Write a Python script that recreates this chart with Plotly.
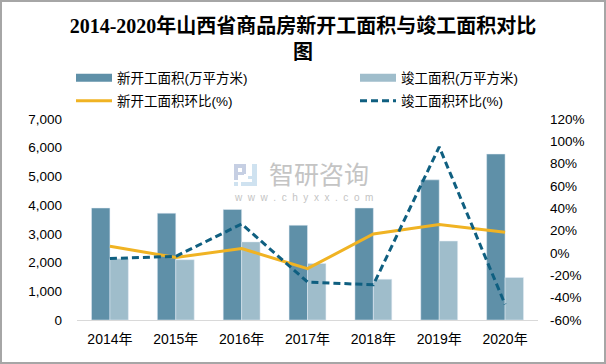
import plotly.graph_objects as go

years = ["2014年", "2015年", "2016年", "2017年", "2018年", "2019年", "2020年"]
started_area = [3900, 3720, 3850, 3300, 3900, 4880, 5780]
completed_area = [2130, 2100, 2720, 1970, 1420, 2750, 1480]
started_ratio = [6, -4, 4, -14, 17, 25.5, 18.5]
completed_ratio = [-5, -3, 26, -26, -28.5, 95, -46]
left_ticks = [0, 1000, 2000, 3000, 4000, 5000, 6000, 7000]
right_ticks = [-60, -40, -20, 0, 20, 40, 60, 80, 100, 120]
right_labels = ["-60%", "-40%", "-20%", "0%", "20%", "40%", "60%", "80%", "100%", "120%"]

SANS = "'Liberation Sans','Noto Sans CJK SC'"
SERIF = "'Liberation Serif','Noto Sans CJK SC'"

W, H = 606, 364
L, R, T, B = 77, 68, 119, 44
PW, PH = W - L - R, H - T - B


def px(x):
    return (x - L) / PW


def py(y):
    return (H - B - y) / PH


def rect(x0, y0, x1, y1, color):
    return dict(type="rect", xref="paper", yref="paper", x0=px(x0), x1=px(x1), y0=py(y0), y1=py(y1),
                fillcolor=color, line=dict(width=0), layer="below")


fig = go.Figure()
fig.add_bar(x=years, y=started_area, name="新开工面积", marker_color="#5f90a8", yaxis="y", showlegend=False)
fig.add_bar(x=years, y=completed_area, name="竣工面积", marker_color="#9fbdcb", yaxis="y", showlegend=False)
fig.add_scatter(x=years, y=started_ratio, name="新开工面积环比(%)", mode="lines",
                line=dict(color="#f0b323", width=3), yaxis="y2", legend="legend3", showlegend=True)
fig.add_scatter(x=years, y=completed_ratio, name="竣工面积环比(%)", mode="lines",
                line=dict(color="#0f5f80", width=3, dash="7px,4px"), yaxis="y2", legend="legend4", showlegend=True)
# Legend keys for the bars: wide flat swatches, as in the reference
fig.add_scatter(x=[None], y=[None], name="新开工面积(万平方米)", mode="lines",
                line=dict(color="#5f90a8", width=8), legend="legend", showlegend=True)
fig.add_scatter(x=[None], y=[None], name="竣工面积(万平方米)", mode="lines",
                line=dict(color="#9fbdcb", width=8), legend="legend2", showlegend=True)


def legend_at(x, y):
    return dict(xref="container", yref="container", x=x / W, y=1 - y / H, xanchor="left", yanchor="middle",
                font=dict(size=13.5), bgcolor="rgba(0,0,0,0)", borderwidth=0, itemwidth=36)


logo = [
    rect(234, 164, 246, 168, "#c6cfe3"), rect(234, 168, 238, 180, "#c6cfe3"),
    rect(242, 168, 246, 174, "#c6cfe3"), rect(238, 172, 244, 175, "#c6cfe3"),
    rect(234, 182, 238, 186, "#cfe2f0"), rect(252, 164, 257, 186, "#cfe2f0"),
    rect(241, 182, 257, 186, "#cfe2f0"), rect(248, 176, 252, 179, "#cfe2f0"),
]
border = dict(type="rect", xref="paper", yref="paper", x0=px(1), x1=px(W - 1), y0=py(H - 1), y1=py(1),
              line=dict(color="#a6a6a6", width=2), fillcolor="rgba(0,0,0,0)", layer="above")

fig.update_layout(
    width=W, height=H, autosize=False,
    margin=dict(l=L, r=R, t=T, b=B, autoexpand=False),
    paper_bgcolor="white", plot_bgcolor="white",
    barmode="group", bargap=0.44, bargroupgap=0,
    font=dict(family=SANS, size=13.5, color="black"),
    title=dict(text="<b>2014-2020年山西省商品房新开工面积与竣工面积对比<br>图</b>",
               x=0.5, xanchor="center", xref="container", y=0.91, yanchor="top",
               yref="container", font=dict(family=SERIF, size=20, color="black")),
    legend=legend_at(71, 78),
    legend2=legend_at(355, 78),
    legend3=legend_at(71, 101),
    legend4=legend_at(355, 101),
    xaxis=dict(showgrid=False, showline=True, linecolor="#d9d9d9", linewidth=1,
               ticks="", tickfont=dict(size=14), automargin=False, ticklabelstandoff=6),
    yaxis=dict(range=[0, 7000], tickvals=left_ticks, tickformat=",d", showgrid=False,
               zeroline=False, ticks="", tickfont=dict(size=13.5), automargin=False, ticklabelstandoff=14),
    yaxis2=dict(range=[-60, 120], tickvals=right_ticks, ticktext=right_labels, overlaying="y",
                side="right", showgrid=False, zeroline=False, ticks="", tickfont=dict(size=13.5),
                automargin=False, ticklabelstandoff=11),
    shapes=logo + [border],
    annotations=[
        dict(text="智研咨询", xref="paper", yref="paper", x=px(319), y=py(173), xanchor="center", yanchor="middle",
             showarrow=False, font=dict(size=25, color="#c4c4c4", family="'Noto Sans CJK SC'")),
        dict(text="\u00a0\u00a0".join("www.chyxx.com"), xref="paper", yref="paper", x=px(303), y=py(197),
             xanchor="center", yanchor="middle", showarrow=False, font=dict(size=10, color="#c4c4c4")),
    ],
)
fig.write_html("out.html", config=dict(displayModeBar=False), post_script="document.body.style.margin='0';")
